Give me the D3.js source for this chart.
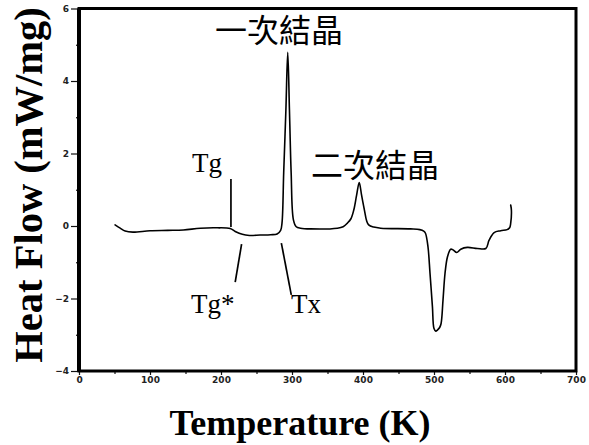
<!DOCTYPE html>
<html>
<head>
<meta charset="utf-8">
<script src="https://cdn.jsdelivr.net/npm/d3@7"></script>
<style>
  html, body { margin: 0; padding: 0; background: #fff; }
  svg { display: block; }
</style>
</head>
<body>
<svg id="chart" width="589" height="445"></svg>
<script>
// ---- data ----
const temperature = [50.8, 58, 65, 76, 100, 125, 147, 171, 195, 213, 220, 230, 240, 255, 270, 279, 284, 286,
  288.3, 291.4, 294, 296.4, 298.8, 302, 306, 312, 326, 364, 372, 378, 383, 387, 391, 394.7, 398, 402, 405, 408,
  415, 425, 467, 480, 485.5, 488, 491.5, 494.4, 497.8, 500, 502.5, 504.8, 508, 510, 512.7, 515.5, 519, 523.5,
  527, 532, 537.7, 547, 561, 573, 577.6, 584.7, 594, 603, 606.5, 608, 609, 608];
const heatFlow = [0.03, -0.06, -0.14, -0.17, -0.13, -0.12, -0.11, -0.06, -0.05, -0.07, -0.15, -0.23, -0.26, -0.25,
  -0.24, -0.22, -0.12, 0.1, 1.47, 3.2, 4.79, 3.2, 1.47, 0.17, -0.02, -0.06, -0.08, -0.06, -0.02, 0.08, 0.2, 0.44,
  0.85, 1.2, 0.85, 0.44, 0.15, 0.03, -0.03, -0.06, -0.08, -0.1, -0.14, -0.2, -0.57, -1.31, -2.23, -2.83, -2.9,
  -2.87, -2.8, -2.69, -2.04, -1.31, -0.85, -0.64, -0.66, -0.73, -0.64, -0.59, -0.62, -0.62, -0.39, -0.18, -0.13,
  -0.1, -0.05, 0.07, 0.44, 0.58];

const xMajorTicks = [0, 100, 200, 300, 400, 500, 600, 700];
const xMinorTicks = [50, 150, 250, 350, 450, 550, 650];
const yMajorTicks = [-4, -2, 0, 2, 4, 6];
const yMinorTicks = [-3, -1, 1, 3, 5];

// annotation markers: start/end in data units
const annotations = [
  { label: "Tg",  x1: 214, y1: 1.3,  x2: 214, y2: -0.03 },
  { label: "Tg*", x1: 229, y1: -0.5, x2: 220, y2: -1.55 },
  { label: "Tx",  x1: 285, y1: -0.47, x2: 299, y2: -1.9 }
];
const peakLabels = ["一次結晶", "二次結晶"];
const xTitle = "Temperature (K)";
const yTitle = "Heat Flow (mW/mg)";

// ---- layout ----
const svg = d3.select("#chart");
const x = d3.scaleLinear().domain([0, 700]).range([79, 576]);
const y = d3.scaleLinear().domain([-4, 6]).range([371, 8.5]);

svg.append("rect").attr("width", 589).attr("height", 445).attr("fill", "#fff");

const tickFont = "'DejaVu Sans', sans-serif";

// bottom axis
const gx = svg.append("g").attr("transform", `translate(0,${y(-4)})`)
  .call(d3.axisBottom(x).tickValues(xMajorTicks).tickSize(4).tickPadding(2).tickFormat(d3.format("d")));
gx.append("g").call(d3.axisBottom(x).tickValues(xMinorTicks).tickSize(3).tickFormat(""));

// left axis
const gy = svg.append("g").attr("transform", `translate(${x(0)},0)`)
  .call(d3.axisLeft(y).tickValues(yMajorTicks).tickSize(8).tickPadding(2).tickFormat(d3.format("d")));
gy.append("g").call(d3.axisLeft(y).tickValues(yMinorTicks).tickSize(3).tickFormat(""));

svg.selectAll(".domain").remove();
svg.selectAll(".tick line").attr("stroke", "#111").attr("stroke-width", 1.2);
svg.selectAll(".tick text").attr("font-family", tickFont).attr("font-size", 9)
  .attr("font-weight", "bold").attr("fill", "#222");

// frame
svg.append("rect")
  .attr("x", x(0)).attr("y", y(6))
  .attr("width", x(700) - x(0)).attr("height", y(-4) - y(6))
  .attr("fill", "none").attr("stroke", "#000").attr("stroke-width", 3);
svg.append("line").attr("x1", x(0)).attr("x2", x(0)).attr("y1", y(6)).attr("y2", y(-4))
  .attr("stroke", "#000").attr("stroke-width", 4);

// curve
const pts = temperature.map((t, i) => [t, heatFlow[i]]);
const line = d3.line().x(d => x(d[0])).y(d => y(d[1])).curve(d3.curveCatmullRom.alpha(0.5));
svg.append("path").datum(pts).attr("d", line)
  .attr("fill", "none").attr("stroke", "#000").attr("stroke-width", 1.6)
  .attr("stroke-linejoin", "round").attr("stroke-linecap", "round");

// annotation markers
svg.selectAll("line.ann").data(annotations).enter().append("line")
  .attr("x1", d => x(d.x1)).attr("y1", d => y(d.y1))
  .attr("x2", d => x(d.x2)).attr("y2", d => y(d.y2))
  .attr("stroke", "#000").attr("stroke-width", 1.7);

const serif = "'Liberation Serif', 'Times New Roman', serif";
svg.append("text").attr("x", 192).attr("y", 172).attr("font-family", serif).attr("font-size", 27).text(annotations[0].label);
svg.append("text").attr("x", 191).attr("y", 313).attr("font-family", serif).attr("font-size", 27).text(annotations[1].label);
svg.append("text").attr("x", 291).attr("y", 313).attr("font-family", serif).attr("font-size", 27).text(annotations[2].label);

const cjk = "'Noto Sans CJK TC', 'Noto Sans CJK SC', sans-serif";
svg.append("text").attr("x", 215).attr("y", 42).attr("font-family", cjk).attr("font-size", 32).text(peakLabels[0]);
svg.append("text").attr("x", 311).attr("y", 177).attr("font-family", cjk).attr("font-size", 32).text(peakLabels[1]);

// axis titles
svg.append("text").attr("x", 300).attr("y", 435).attr("text-anchor", "middle")
  .attr("font-family", serif).attr("font-weight", "bold").attr("font-size", 36).text(xTitle);
svg.append("text").attr("transform", "translate(42,185) rotate(-90)").attr("text-anchor", "middle")
  .attr("font-family", serif).attr("font-weight", "bold").attr("font-size", 40.5).text(yTitle);
</script>
</body>
</html>
